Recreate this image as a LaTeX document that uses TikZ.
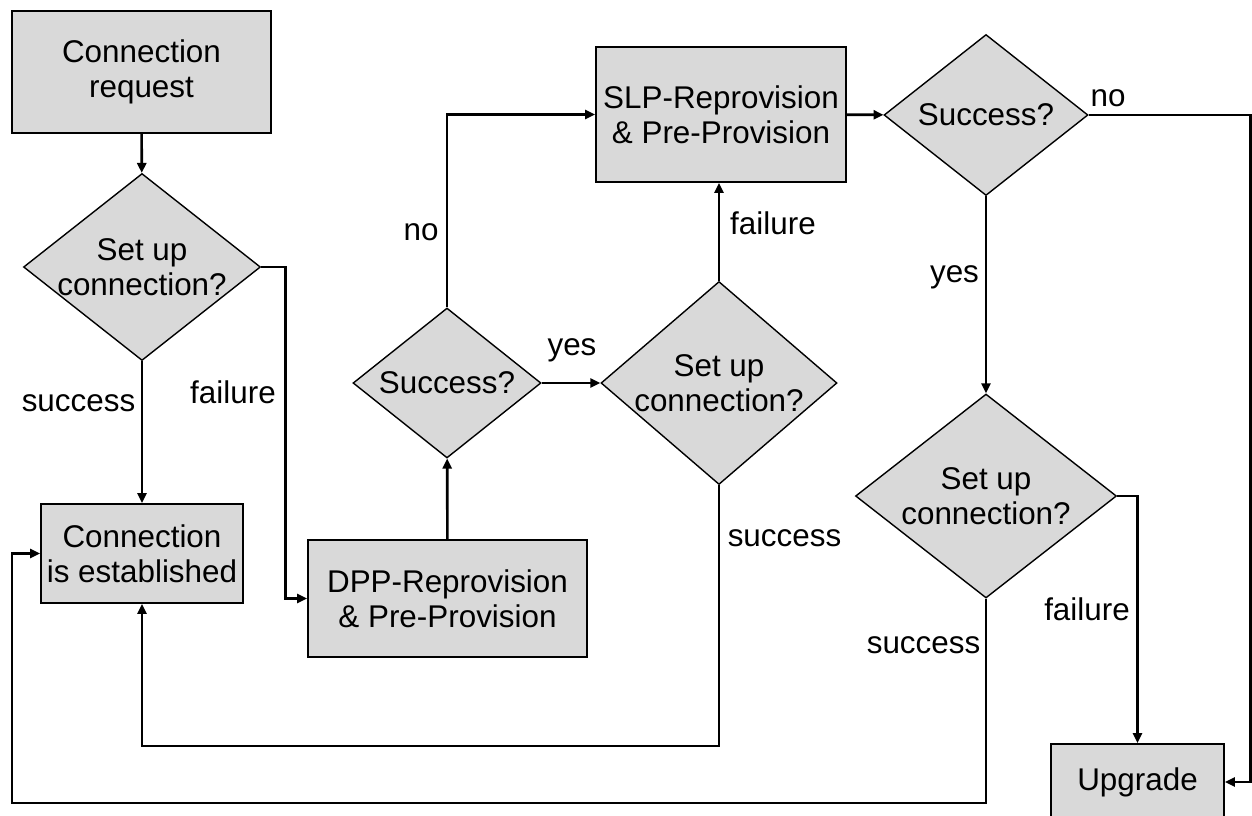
\documentclass[tikz,border=0pt]{standalone}
\usepackage{fontspec}
\setmainfont{Liberation Sans}
\usetikzlibrary{shapes.geometric,arrows.meta}
\begin{document}
\begin{tikzpicture}
  [x=0.5pt,y=-0.5pt,>={Triangle[length=5pt,width=4.5pt]},
   every node/.style={font=\fontsize{15.7}{17.5}\selectfont,align=center,inner sep=0pt},
   box/.style={rectangle,draw,line width=0.9pt,fill=gray!30},
   decision/.style={diamond,draw,line width=0.7pt,fill=gray!30},
   line/.style={line width=1.3pt,->}]
\useasboundingbox (0,0) rectangle (1252,815);

\node (n1)[box,minimum width=129.5pt,minimum height=61pt] at (141.5,72) {Connection\\request};
  \node (n2)[decision,minimum width=118.5pt,minimum height=93.5pt,
    label={[name=t2]center:{Set up\\connection?}}] at (142,267) {};
  \node (n3)[box,minimum width=101pt,minimum height=49.5pt] at (142,553.5) {Connection\\is established};
  \node (n4)[box,minimum width=139.5pt,minimum height=58.5pt] at (447.5,598.5) {DPP-Reprovision\\\& Pre-Provision};
  \node (n5)[decision,minimum width=94pt,minimum height=75pt,
    label={[name=t5]center:Success?}] at (447,383) {};
  \node (n6)[decision,minimum width=118pt,minimum height=101.5pt,
    label={[name=t6]center:{Set up\\connection?}}] at (719,383) {};
  \node (n7)[box,minimum width=125pt,minimum height=67.5pt] at (721,114.5) {SLP-Reprovision\\\& Pre-Provision};
  \node (n8)[decision,minimum width=102pt,minimum height=80.5pt,
    label={[name=t8]center:Success?}] at (986,115) {};
  \node (n9)[decision,minimum width=130.5pt,minimum height=102pt,
    label={[name=t9]center:{Set up\\connection?}}] at (986,496) {};
  \node (n10)[box,minimum width=86.5pt,minimum height=38pt] at (1137.5,782) {Upgrade};

  \coordinate (c1) at (12,803);
  \coordinate (c2) at (142,746);

 \foreach \from/\to in {n1/n2,n2/n3,n4/n5,n5/n6,n7/n8,n8/n9}
    \draw[line] (\from) -- (\to);
  \draw[line] (n2.east) -- ++(24,0) |- (n4.west);
  \draw[line] (n5.north) |- (n7.west);
  \draw[line] (n6.north) -- (n6.north |- n7.south);
  \draw[line] (n6.south) |- (c2) -- (n3.south);
  \draw[line] (n8.east) -- ++(162,0) |- (n10.east);
  \draw[line] (n9.east) -| (n10.north);
  \draw[line] (n9.south) |- (c1) |- (n3.west);

 \node (l1) at (78.5,403) {success};
  \node (l2) at (233,392) {failure};
  \node (l3) at (421,232) {no};
  \node (l4) at (572,350) {yes};
  \node (l5) at (773,223) {failure};
  \node (l6) at (784.5,538) {success};
  \node (l7) at (1108,98) {no};
  \node (l8) at (954.5,277) {yes};
  \node (l9) at (1087,609) {failure};
  \node (l10) at (923.5,645) {success};

\end{tikzpicture}
\end{document}
